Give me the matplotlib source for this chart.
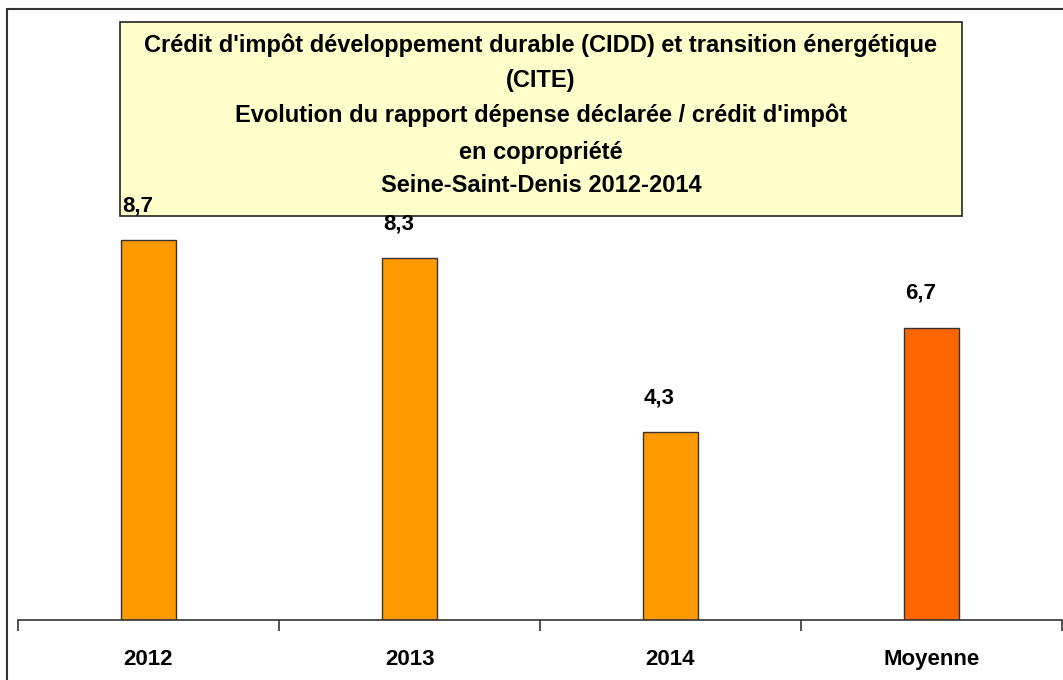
import matplotlib.pyplot as plt
from matplotlib.patches import Rectangle

plt.rcParams['font.family'] = ['Liberation Sans', 'DejaVu Sans']

# data
categories = ['2012', '2013', '2014', 'Moyenne']
values = [8.7, 8.3, 4.3, 6.7]
labels = ['8,7', '8,3', '4,3', '6,7']
colors = ['#FF9900', '#FF9900', '#FF9900', '#FF6600']

title_lines = [
    "Crédit d'impôt développement durable (CIDD) et transition énergétique",
    "(CITE)",
    "Evolution du rapport dépense déclarée / crédit d'impôt",
    "en copropriété",
    "Seine-Saint-Denis 2012-2014",
]

fig = plt.figure(figsize=(10.63, 6.8), dpi=100)
W, H = 1063, 680

# axes placed to match the original layout (pixel coords)
ax = fig.add_axes([18 / W, (H - 620) / H, (1062 - 18) / W, (620 - 9) / H])
ax.set_zorder(5)
ax.patch.set_alpha(0)
x = range(len(categories))
ax.bar(x, values, width=0.21, color=colors, edgecolor='#333333', linewidth=1, zorder=2)
ax.set_xlim(-0.5, len(categories) - 0.5)
ax.set_ylim(0, 14)

for xi, v, lab in zip(x, values, labels):
    ax.annotate(lab, (xi, v), xytext=(-8, 17), textcoords='offset points',
                ha='center', va='bottom', fontsize=16, fontweight='bold', zorder=5)

ax.set_yticks([])
for s in ['top', 'right', 'left']:
    ax.spines[s].set_visible(False)
ax.spines['bottom'].set_color('#333333')
ax.spines['bottom'].set_linewidth(1.2)
ax.set_xticks([i - 0.5 for i in range(len(categories) + 1)], minor=False)
ax.set_xticklabels([])
ax.tick_params(axis='x', direction='out', length=8, width=1.2, color='#333333')
ax.set_xticks(list(x), minor=True)
ax.set_xticklabels(categories, minor=True, fontsize=16, fontweight='bold')
ax.tick_params(axis='x', which='minor', length=0, pad=21)

# title box
fig.patches.append(Rectangle((120 / W, (H - 216) / H), (962 - 120) / W, (216 - 22) / H,
                             transform=fig.transFigure, facecolor='#FFFFCC',
                             edgecolor='#222222', linewidth=1.2, zorder=3))
line_y = [45, 80, 115, 152, 186]
for ty, t in zip(line_y, title_lines):
    fig.text(541 / W, (H - ty) / H, t, ha='center', va='center', fontsize=17,
             fontweight='bold', zorder=4)

# outer chart border
fig.patches.append(Rectangle((7 / W, -0.1), 1.2, (H - 9) / H + 0.1,
                             transform=fig.transFigure, facecolor='none',
                             edgecolor='#333333', linewidth=1.5, zorder=1))

fig.savefig('out.png', dpi=100)
